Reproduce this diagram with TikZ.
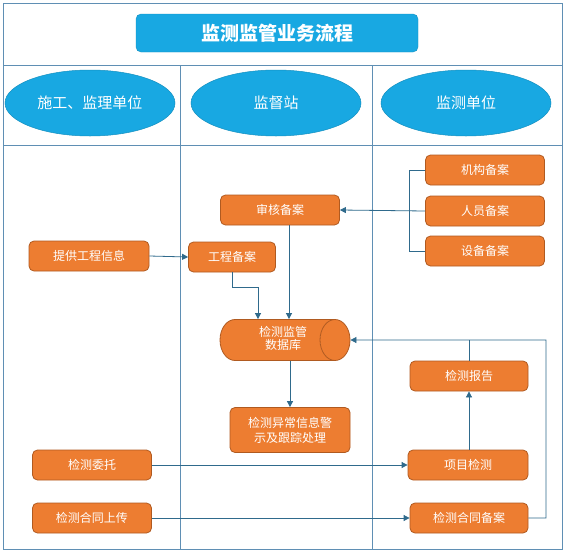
\documentclass[tikz,border=0pt]{standalone}
\usepackage{fontspec}
\setmainfont{Noto Sans CJK SC}
\usetikzlibrary{shapes.geometric,arrows.meta}
\definecolor{orangefill}{HTML}{ED7D31}
\definecolor{orangeedge}{HTML}{B05A20}
\definecolor{cyanfill}{HTML}{18A8E2}
\definecolor{cyanedge}{HTML}{1590C0}
\definecolor{gridline}{HTML}{5F8FB4}
\definecolor{conn}{HTML}{2F6A8C}
\tikzset{
  obox/.style={draw=orangeedge, line width=0.8pt, fill=orangefill, rounded corners=5pt,
    text=white, font=\fontsize{12}{15}\selectfont, minimum height=30pt, align=center, inner sep=2pt},
  lane/.style={draw=cyanedge, line width=0.5pt, fill=cyanfill, ellipse, text=white,
    font=\fontsize{15}{18}\selectfont, minimum width=170pt, minimum height=66pt},
  grid/.style={draw=gridline, line width=0.9pt},
  arr/.style={draw=conn, line width=0.8pt, -{Triangle[length=6pt,width=6pt]}},
  ln/.style={draw=conn, line width=0.8pt}
}
\begin{document}
\begin{tikzpicture}[x=1pt,y=-1pt]
\useasboundingbox (0,0) rectangle (566,552);
\fill[white] (0,0) rectangle (566,552);
% frame and grid
\draw[grid] (3,3) rectangle (562,549);
\draw[grid] (3,65) -- (562,65);
\draw[grid] (3,145) -- (562,145);
\draw[grid] (180,65) -- (180,549);
\draw[grid] (372,65) -- (372,549);
% title
\node[draw=cyanedge, fill=cyanfill, rounded corners=5pt, minimum width=282pt, minimum height=38pt,
  text=white, font=\fontsize{19}{22}\selectfont\bfseries] (title) at (277,33) {监测监管业务流程};
% lanes
\node[lane] (l1) at (90,103) {施工、监理单位};
\node[lane] (l2) at (276,103) {监督站};
\node[lane] (l3) at (466,103) {监测单位};
% boxes
\node[obox, minimum width=119pt] (jg) at (485,170) {机构备案};
\node[obox, minimum width=119pt] (ry) at (485,211) {人员备案};
\node[obox, minimum width=119pt] (sb) at (485,251) {设备备案};
\node[obox, minimum width=119pt] (sh) at (280,210) {审核备案};
\node[obox, minimum width=120pt] (tg) at (89,256) {提供工程信息};
\node[obox, minimum width=87pt] (gc) at (232,257) {工程备案};
\node[draw=orangeedge, line width=0.8pt, shape=cylinder, shape border rotate=0, aspect=1,
  minimum height=130pt, minimum width=41pt, cylinder uses custom fill,
  cylinder body fill=orangefill, cylinder end fill=orangefill, text=white,
  font=\fontsize{12}{15}\selectfont, inner sep=1pt] (db) at (275,340)
  {\hspace*{16pt}\begin{tabular}{@{}c@{}}检测监管\\[-2pt]数据库\end{tabular}};
\node[obox, minimum width=120pt, minimum height=45pt] (yc) at (290,430) {检测异常信息警\\示及跟踪处理};
\node[obox, minimum width=118pt] (bg) at (469,376) {检测报告};
\node[obox, minimum width=120pt] (xm) at (468,465) {项目检测};
\node[obox, minimum width=119pt] (wt) at (92,465) {检测委托};
\node[obox, minimum width=119pt] (sc) at (92,518) {检测合同上传};
\node[obox, minimum width=118pt] (ba) at (469,518) {检测合同备案};
% connectors
\coordinate (bx) at (409,0);
\draw[ln] (jg.west) -| (bx |- sb.west) -- (sb.west);
\draw[arr] (ry.west) -- (sh.east);
\draw[arr] (tg.east) -- (gc.west);
\draw[arr] (sh.south -| 289,0) -- (289,0 |- db.north);
\coordinate (g1) at (258,287);
\draw[arr] (gc.south) |- (g1) -- (258,0 |- db.north);
\draw[arr] (db.south -| 290,0) -- (290,0 |- yc.north);
\draw[arr] (wt.east) -- (xm.west);
\draw[arr] (sc.east) -- (ba.west);
\draw[arr] (xm.north -| bg.north) -- (bg.south);
\coordinate (rc) at (546,340);
\draw[arr] (ba.east) -| (rc) -- (db.east);
\draw[ln] (bg.north) -- (bg.north |- rc);
\end{tikzpicture}
\end{document}
